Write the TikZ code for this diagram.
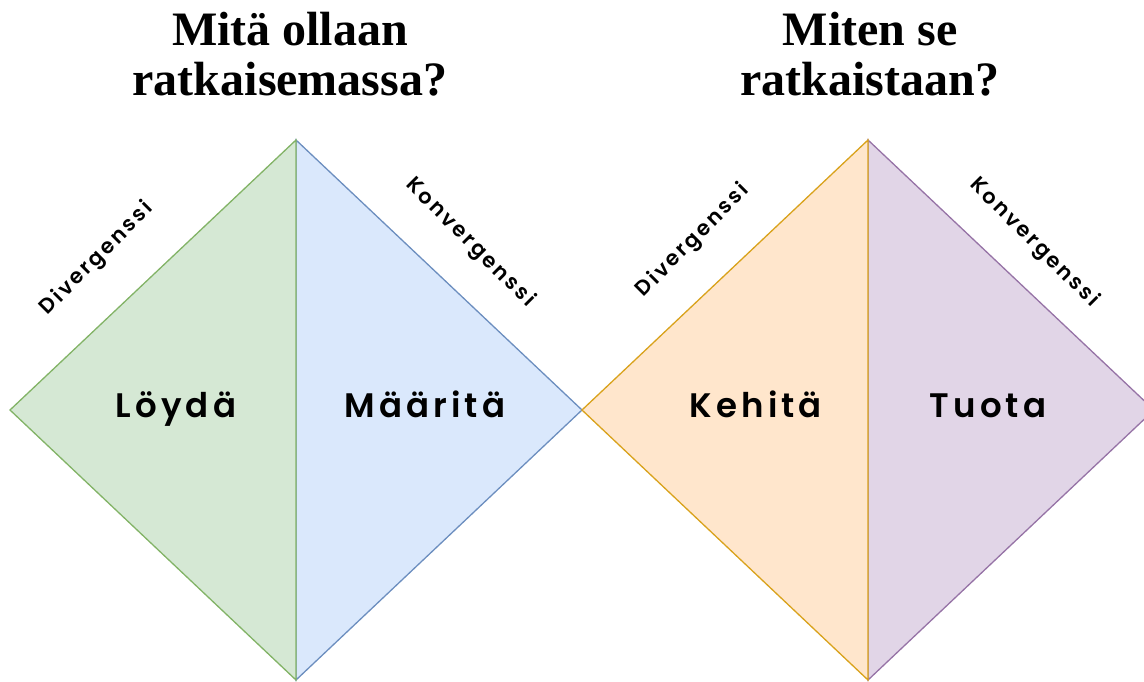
\documentclass[tikz,border=0pt]{standalone}
\usepackage{fontspec}
\setmainfont{Liberation Serif}
\newfontfamily\labfont{Poppins}[UprightFont=* SemiBold, LetterSpace=12]
\definecolor{gfill}{HTML}{D5E8D4}\definecolor{gline}{HTML}{82B366}
\definecolor{bfill}{HTML}{DAE8FC}\definecolor{bline}{HTML}{6C8EBF}
\definecolor{ofill}{HTML}{FFE6CC}\definecolor{oline}{HTML}{D9A21B}
\definecolor{pfill}{HTML}{E1D5E7}\definecolor{pline}{HTML}{9673A6}
\begin{document}
\begin{tikzpicture}[x=1pt,y=-1pt,
  half/.style={line width=1.3pt, line join=miter},
  heading/.style={font=\bfseries\fontsize{48}{50}\selectfont, anchor=base},
  phase/.style={font=\labfont\fontsize{34}{36}\selectfont, anchor=base},
  side/.style={font=\labfont\fontsize{21}{23}\selectfont, inner sep=0pt}]
\useasboundingbox (0,0) rectangle (1144,681);
\begin{scope}
  \clip (0,0) rectangle (1144,681);
  % first diamond: problem space
  \coordinate (l1) at (10,410);
  \coordinate (t1) at (296,140);
  \coordinate (r1) at (582,410);
  \coordinate (b1) at (296,680);
  % second diamond: solution space
  \coordinate (l2) at (582,410);
  \coordinate (t2) at (868,140);
  \coordinate (r2) at (1154,410);
  \coordinate (b2) at (868,680);
  \filldraw[half, fill=bfill, draw=bline] (t1) -- (r1) -- (b1) -- cycle;
  \filldraw[half, fill=gfill, draw=gline] (t1) -- (l1) -- (b1) -- cycle;
  \filldraw[half, fill=pfill, draw=pline] (t2) -- (r2) -- (b2) -- cycle;
  \filldraw[half, fill=ofill, draw=oline] (t2) -- (l2) -- (b2) -- cycle;
\end{scope}
% headings
\node[heading] (h1a) at (290,45) {Mitä ollaan};
\node[heading] (h1b) at (290,95) {ratkaisemassa?};
\node[heading] (h2a) at (870,45) {Miten se};
\node[heading] (h2b) at (870,95) {ratkaistaan?};
% phase names
\node[phase] (p1) at (176,417) {Löydä};
\node[phase] (p2) at (425,417) {Määritä};
\node[phase] (p3) at (756,417) {Kehitä};
\node[phase] (p4) at (988,417) {Tuota};
% side labels
\node[side, rotate=45] (d1) at (97,259) {Divergenssi};
\node[side, rotate=-45] (k1) at (470,243) {Konvergenssi};
\node[side, rotate=45] (d2) at (693,241) {Divergenssi};
\node[side, rotate=-45] (k2) at (1034,243) {Konvergenssi};
\end{tikzpicture}
\end{document}
